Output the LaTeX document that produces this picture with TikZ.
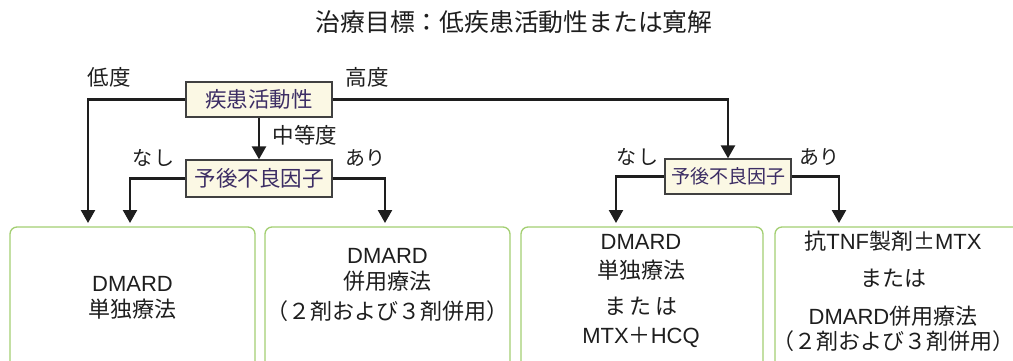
\documentclass[tikz,border=0pt]{standalone}
\usepackage{fontspec}
\setmainfont{Noto Sans CJK JP}
\newfontfamily\lat{Liberation Sans}
\usetikzlibrary{arrows.meta}
\definecolor{ivory}{HTML}{FBF8E4}
\definecolor{purp}{HTML}{3C2D64}
\definecolor{leaf}{HTML}{A3CF72}
\definecolor{ink}{HTML}{1E1E1E}
\begin{document}
\begin{tikzpicture}[x=1pt,y=-1pt,
  decision/.style={draw=black!75, line width=1.3pt, fill=ivory, text=purp, inner sep=0pt,
    font=\fontsize{21.5}{25}\selectfont},
  result/.style={draw=leaf, line width=1.3pt, rounded corners=7pt, fill=white, inner sep=0pt},
  lbl/.style={font=\fontsize{21.5}{25}\selectfont, text=ink, inner sep=0pt},
  txt/.style={font=\fontsize{22}{26}\selectfont, text=ink, inner sep=0pt},
  arr/.style={line width=2.4pt, draw=ink, -{Triangle[length=13pt,width=14pt]}}]
\useasboundingbox (0,0) rectangle (1013,360);
\clip (0,0) rectangle (1013,360);

% title
\node[lbl, font=\fontsize{24.8}{28}\selectfont] (title) at (514,22) {治療目標：低疾患活動性または寛解};

% decision nodes
\node[decision, minimum width=146pt, minimum height=35pt] (da) at (259,99.5) {疾患活動性};
\node[decision, minimum width=146pt, minimum height=37pt] (pf1) at (259,178.5) {予後不良因子};
\node[decision, font=\fontsize{19}{22}\selectfont, minimum width=126pt, minimum height=35pt] (pf2) at (728,176.5) {予後不良因子};

% result boxes
\node[result, minimum width=245pt, minimum height=180pt] (b1) at (132.5,317) {};
\node[result, minimum width=245pt, minimum height=180pt] (b2) at (387.5,317) {};
\node[result, minimum width=242pt, minimum height=180pt] (b3) at (642,317) {};
\node[result, minimum width=265pt, minimum height=180pt] (b4) at (907.5,317) {};

% arrow end points
\coordinate (lowend) at (88,223);
\coordinate (n1end) at (130,223);
\coordinate (a1end) at (385,223);
\coordinate (n2end) at (616,223);
\coordinate (a2end) at (839,223);

% connectors
\draw[arr] (da.west) -| (lowend);
\draw[arr] (da.east) -| (pf2.north);
\draw[arr] (da.south) -- (pf1.north);
\draw[arr] (pf1.west) -| (n1end);
\draw[arr] (pf1.east) -| (a1end);
\draw[arr] (pf2.west) -| (n2end);
\draw[arr] (pf2.east) -| (a2end);

% labels
\node[lbl] (low) at (109,77) {低度};
\node[lbl] (high) at (367,77) {高度};
\node[lbl] (mid) at (305,135) {中等度};
\node[lbl, font=\fontsize{20}{23}\selectfont] (no1) at (153,158) {な\hspace{2pt}し};
\node[lbl, font=\fontsize{20}{23}\selectfont] (yes1) at (365,158) {あり};
\node[lbl, font=\fontsize{20}{23}\selectfont] (no2) at (637,157) {な\hspace{2pt}し};
\node[lbl, font=\fontsize{20}{23}\selectfont] (yes2) at (819,157) {あり};

% box texts
\node[txt] (t11) at (132.5,284) {\lat DMARD};
\node[txt] (t12) at (132.5,309) {単独療法};

\node[txt] (t21) at (387.5,256) {\lat DMARD};
\node[txt] (t22) at (387.5,281) {併用療法};
\node[txt] (t23) at (387.5,311) {（２剤および３剤併用）};

\node[txt] (t31) at (641,242) {\lat DMARD};
\node[txt] (t32) at (641,270) {単独療法};
\node[txt] (t33) at (641,306) {ま\hspace{4pt}た\hspace{4pt}は};
\node[txt] (t34) at (641,337) {{\lat MTX}＋{\lat HCQ}};

\node[txt] (t41) at (893,241) {抗{\lat TNF}製剤±{\lat MTX}};
\node[txt] (t42) at (893,278) {または};
\node[txt] (t43) at (893,316) {{\lat DMARD}併用療法};
\node[txt] (t44) at (893,341) {（２剤および３剤併用）};
\end{tikzpicture}
\end{document}
